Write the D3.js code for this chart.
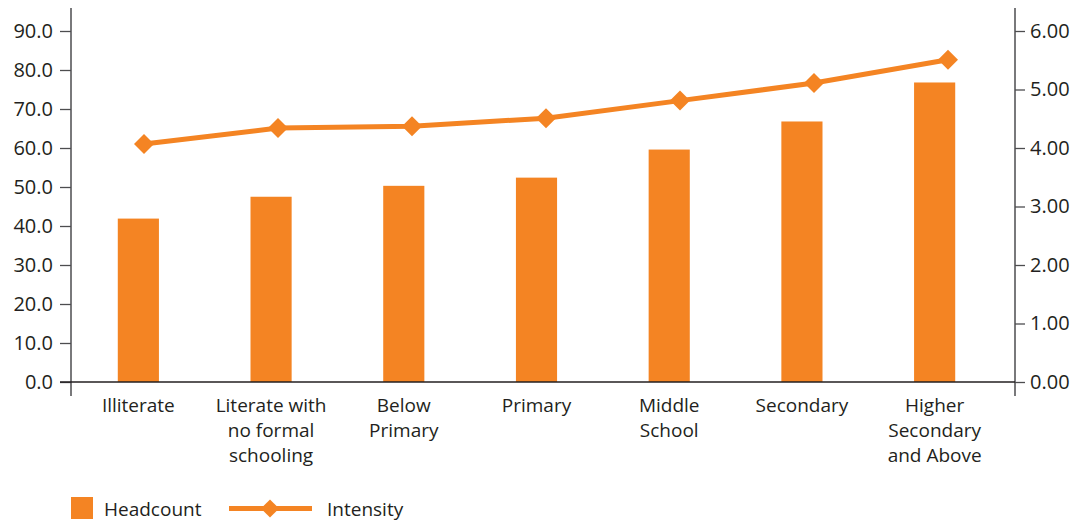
<!DOCTYPE html>
<html>
<head>
<meta charset="utf-8">
<script src="https://cdn.jsdelivr.net/npm/d3@7"></script>
<style>
  html, body { margin: 0; padding: 0; background: #ffffff; }
  svg { display: block; }
  text { font-family: "Open Sans", "Noto Sans", sans-serif; fill: #231f20; }
</style>
</head>
<body>
<svg id="chart" width="1083" height="523"></svg>
<script>
// Education level categories (label lines split with "\n")
const categories = [
  "Illiterate",
  "Literate with\nno formal\nschooling",
  "Below\nPrimary",
  "Primary",
  "Middle\nSchool",
  "Secondary",
  "Higher\nSecondary\nand Above"
];
// Headcount (left axis, %)
const headcount = [41.9, 47.5, 50.3, 52.4, 59.6, 66.8, 76.8];
// Intensity (right axis)
const intensity = [4.07, 4.34, 4.37, 4.51, 4.81, 5.11, 5.51];
// Axis tick values
const leftTicks = [0, 10, 20, 30, 40, 50, 60, 70, 80, 90];
const rightTicks = [0, 1, 2, 3, 4, 5, 6];
const seriesNames = ["Headcount", "Intensity"];

const ORANGE = "#f48423";
const AXIS = "#4d4d4f";

const svg = d3.select("#chart");

const plotLeft = 71, plotRight = 1015, plotTop = 31, plotBottom = 382;

const xBar = d3.scaleBand().domain(categories).range([72, 1001])
  .paddingInner(0.69).paddingOuter(0.345);
const xLine = d3.scalePoint().domain(categories).range([77, 1015]).padding(0.5);
const yLeft = d3.scaleLinear().domain([0, 90]).range([plotBottom, plotTop]);
const yRight = d3.scaleLinear().domain([0, 6]).range([plotBottom, plotTop]);

// Bars
svg.append("g").selectAll("rect")
  .data(categories)
  .join("rect")
  .attr("x", d => xBar(d))
  .attr("y", (d, i) => yLeft(headcount[i]))
  .attr("width", xBar.bandwidth())
  .attr("height", (d, i) => yLeft(0) - yLeft(headcount[i]))
  .attr("fill", ORANGE);

// Left axis
const leftAxis = svg.append("g")
  .attr("transform", `translate(${plotLeft},0)`)
  .call(d3.axisLeft(yLeft).tickValues(leftTicks).tickFormat(d3.format(".1f"))
    .tickSize(11).tickPadding(7));
leftAxis.select(".domain").remove();
leftAxis.selectAll(".tick line").attr("stroke", AXIS).attr("stroke-width", 1.3);
leftAxis.selectAll(".tick text").attr("font-size", 20).attr("fill", "#231f20")
  .style("font-family", '"Open Sans", sans-serif');

// Right axis
const rightAxis = svg.append("g")
  .attr("transform", `translate(${plotRight},0)`)
  .call(d3.axisRight(yRight).tickValues(rightTicks).tickFormat(d3.format(".2f"))
    .tickSize(10).tickPadding(5));
rightAxis.select(".domain").remove();
rightAxis.selectAll(".tick line").attr("stroke", AXIS).attr("stroke-width", 1.3);
rightAxis.selectAll(".tick text").attr("font-size", 20).attr("fill", "#231f20")
  .style("font-family", '"Open Sans", sans-serif');

// Axis lines
svg.append("line").attr("x1", plotLeft).attr("x2", plotLeft).attr("y1", 8).attr("y2", 396)
  .attr("stroke", AXIS).attr("stroke-width", 1.5);
svg.append("line").attr("x1", plotRight).attr("x2", plotRight).attr("y1", 8).attr("y2", 396)
  .attr("stroke", AXIS).attr("stroke-width", 1.5);
svg.append("line").attr("x1", 60).attr("x2", plotRight).attr("y1", plotBottom).attr("y2", plotBottom)
  .attr("stroke", "#231f20").attr("stroke-width", 1.5);

// Category labels
const catG = svg.append("g");
categories.forEach(c => {
  const t = catG.append("text")
    .attr("x", xBar(c) + xBar.bandwidth() / 2)
    .attr("y", 412)
    .attr("text-anchor", "middle")
    .attr("font-size", 19);
  c.split("\n").forEach((line, j) => {
    t.append("tspan").attr("x", xBar(c) + xBar.bandwidth() / 2)
      .attr("dy", j === 0 ? 0 : 25).text(line);
  });
});

// Intensity line
const line = d3.line()
  .x((d, i) => xLine(categories[i]))
  .y(d => yRight(d));
svg.append("path")
  .datum(intensity)
  .attr("d", line)
  .attr("fill", "none")
  .attr("stroke", ORANGE)
  .attr("stroke-width", 5);

const diamond = d3.symbol(d3.symbolSquare, 200);
svg.append("g").selectAll("path")
  .data(intensity)
  .join("path")
  .attr("d", diamond)
  .attr("transform", (d, i) => `translate(${xLine(categories[i])},${yRight(d)}) rotate(45)`)
  .attr("fill", ORANGE);

// Legend
const legend = svg.append("g");
legend.append("rect").attr("x", 71).attr("y", 497).attr("width", 22).attr("height", 22)
  .attr("fill", ORANGE);
legend.append("text").attr("x", 104).attr("y", 515.5).attr("font-size", 19).text(seriesNames[0]);
legend.append("line").attr("x1", 229).attr("x2", 312).attr("y1", 508.5).attr("y2", 508.5)
  .attr("stroke", ORANGE).attr("stroke-width", 5);
legend.append("path").attr("d", d3.symbol(d3.symbolSquare, 165))
  .attr("transform", "translate(270,508.5) rotate(45)").attr("fill", ORANGE);
legend.append("text").attr("x", 327).attr("y", 515.5).attr("font-size", 19).text(seriesNames[1]);
</script>
</body>
</html>
